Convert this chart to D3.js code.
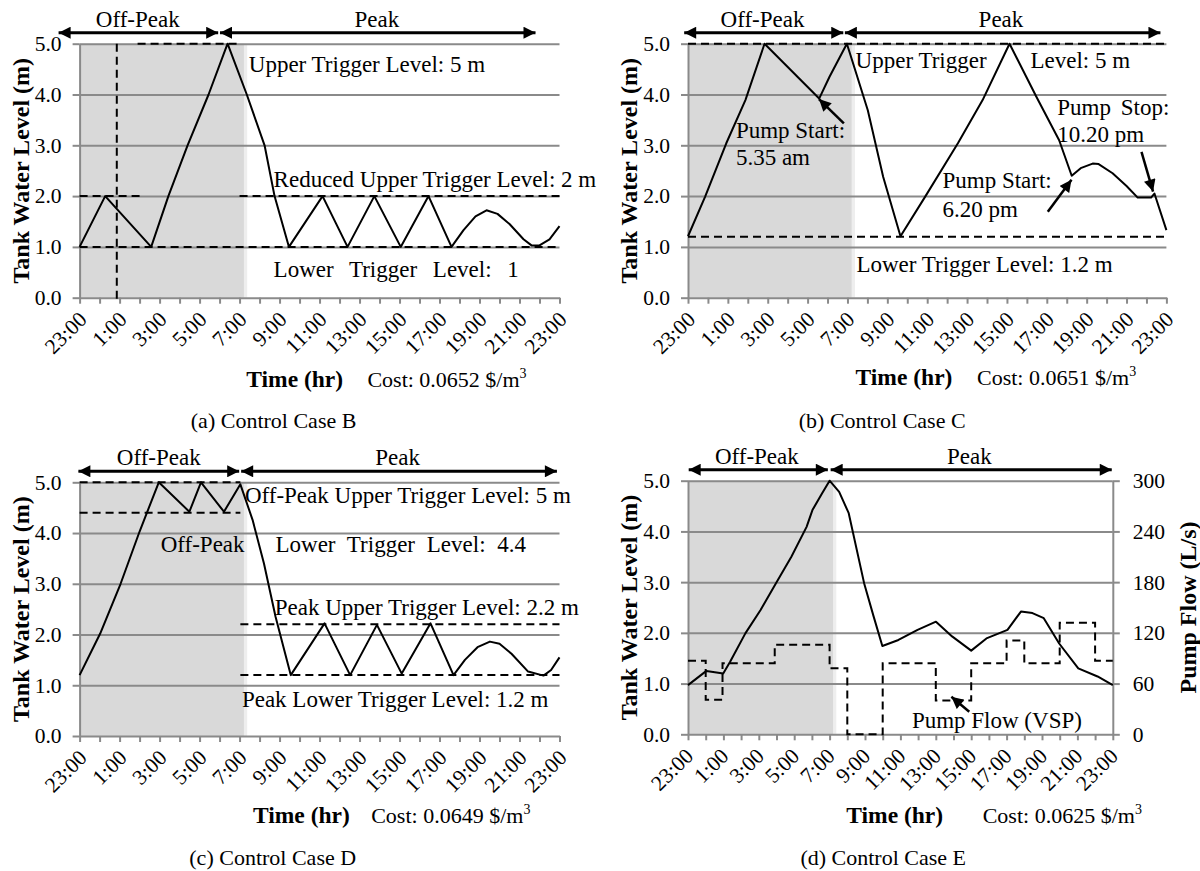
<!DOCTYPE html>
<html>
<head>
<meta charset="utf-8">
<script src="https://cdn.jsdelivr.net/npm/d3@7"></script>
<style>
  body { margin: 0; background: #fff; }
  svg, svg text { font-family: "Liberation Serif", "Times New Roman", serif; }
</style>
</head>
<body>
<svg id="chart" width="1200" height="871"></svg>
<script>
// x ticks: hours from 23:00 (0) to 23:00 next day (24)
const tickLabels = ["23:00","1:00","3:00","5:00","7:00","9:00","11:00","13:00","15:00","17:00","19:00","21:00","23:00"];
const levelTicks = [0, 1, 2, 3, 4, 5];
const flowTicks = [0, 60, 120, 180, 240, 300];
const offPeakEnd = 8.22;

// (a) Control Case B
const timeB  = [0, 1.28, 3.58, 4.44, 5.4, 6.45, 7.4, 8.36, 9.25, 9.75, 10.47, 12.15, 13.4, 14.74, 16.06, 17.45, 18.6, 19.2, 19.8, 20.35, 20.9, 21.5, 22.2, 22.6, 23.0, 23.5, 24];
const levelB = [1.0, 2.0, 1.0, 2.0, 3.0, 4.0, 5.0, 4.0, 3.0, 2.0, 1.0, 2.0, 1.0, 2.0, 1.0, 2.0, 1.0, 1.33, 1.6, 1.72, 1.65, 1.45, 1.15, 1.03, 1.03, 1.15, 1.41];
const trigLevelB = [5, 2, 2, 1];
const trigFromB  = [2.9, 0, 8.0, 0];
const trigToB    = [8.0, 3.0, 24, 24];
const markTimeB  = 1.86;

// (b) Control Case C
const timeC  = [0, 0.86, 1.92, 2.88, 3.84, 6.58, 7.1, 7.97, 8.26, 9.02, 9.79, 10.66, 11.9, 13.54, 14.78, 16.13, 17.47, 18.62, 19.25, 19.7, 20.3, 20.6, 21.3, 22.0, 22.56, 23.23, 23.4, 24];
const levelC = [1.21, 1.99, 3.04, 3.89, 5.0, 3.92, 4.35, 5.0, 4.64, 3.69, 2.38, 1.21, 1.99, 3.04, 3.89, 5.0, 3.96, 3.1, 2.4, 2.55, 2.64, 2.63, 2.45, 2.2, 1.97, 1.97, 2.05, 1.33];
const trigLevelC = [5, 1.2];
const trigFromC  = [0, 0];
const trigToC    = [24, 24];

// (c) Control Case D
const timeD  = [0, 1.03, 2.05, 3.0, 3.96, 5.49, 6.07, 7.22, 8.04, 8.65, 9.22, 9.8, 10.56, 12.25, 13.53, 14.87, 16.11, 17.55, 18.7, 19.27, 19.9, 20.52, 21.0, 21.6, 22.43, 23.2, 23.58, 24];
const levelD = [1.2, 2.02, 3.0, 4.03, 5.0, 4.42, 5.0, 4.42, 4.96, 4.26, 3.4, 2.35, 1.2, 2.22, 1.2, 2.19, 1.23, 2.22, 1.2, 1.5, 1.75, 1.86, 1.82, 1.62, 1.27, 1.19, 1.3, 1.55];
const trigLevelD = [5, 4.4, 2.2, 1.2];
const trigFromD  = [0, 0, 8.04, 8.04];
const trigToD    = [8.04, 8.04, 24, 24];

// (d) Control Case E
const timeE  = [0, 1.04, 1.99, 2.38, 3.24, 4.1, 4.97, 5.84, 6.7, 7.03, 7.57, 8.0, 8.54, 9.08, 9.95, 10.49, 10.98, 11.89, 12.97, 14.01, 14.92, 16.0, 16.86, 18.05, 18.81, 19.46, 20.1, 20.97, 22.05, 23.14, 24];
const levelE = [0.97, 1.25, 1.2, 1.43, 1.99, 2.45, 2.98, 3.5, 4.09, 4.42, 4.75, 5.0, 4.78, 4.36, 2.98, 2.32, 1.74, 1.86, 2.06, 2.22, 1.93, 1.65, 1.89, 2.06, 2.42, 2.39, 2.29, 1.79, 1.3, 1.14, 0.97];
const flowTimeE = [0, 1.0, 1.95, 4.9, 8.0, 9.0, 11.0, 14.0, 16.0, 18.0, 19.0, 21.0, 23.0, 24];
const flowE     = [87, 41, 84, 106, 78, 0, 84, 40, 84, 111, 84, 132, 87, 87];

const svg = d3.select("#chart");
const gridColor = "#8a8a8a";
const defs = svg.append("defs");
defs.append("marker")
  .attr("id", "head")
  .attr("viewBox", "0 0 10 10")
  .attr("refX", 10).attr("refY", 5)
  .attr("markerWidth", 13).attr("markerHeight", 12)
  .attr("markerUnits", "userSpaceOnUse")
  .attr("orient", "auto-start-reverse")
  .append("path").attr("d", "M0,0 L10,5 L0,10 z").attr("fill", "#000");

function addText(g, x, y, str, size, opts) {
  opts = opts || {};
  const t = g.append("text")
    .attr("x", x).attr("y", y)
    .attr("font-size", size)
    .attr("fill", "#000")
    .attr("text-anchor", opts.anchor || "start")
    .attr("font-weight", opts.bold ? "bold" : "normal")
    .text(str);
  if (opts.ws) t.attr("word-spacing", opts.ws);
  return t;
}

// d3 axes put sans-serif on the group, drop it and restyle
function styleAxis(a) {
  a.attr("font-family", null).attr("font-size", null);
  a.select(".domain").attr("stroke", gridColor).attr("stroke-width", 2);
  a.selectAll("line").attr("stroke", gridColor).attr("stroke-width", 2);
  a.selectAll("text").attr("font-size", 21.5).attr("fill", "#000");
}

function panel(p) {
  const x = d3.scaleLinear().domain([0, 24]).range([p.left, p.right]);
  const y = d3.scaleLinear().domain([0, 5]).range([p.bottom, p.top]);
  const g = svg.append("g");

  // off-peak shading
  g.append("rect")
    .attr("x", x(0)).attr("y", y(5))
    .attr("width", x(offPeakEnd) - x(0)).attr("height", y(0) - y(5))
    .attr("fill", "#d9d9d9");
  g.append("rect")
    .attr("x", x(offPeakEnd)).attr("y", y(5))
    .attr("width", x(offPeakEnd + 0.16) - x(offPeakEnd)).attr("height", y(0) - y(5))
    .attr("fill", "#eeeeee");

  // gridlines
  g.append("g")
    .attr("transform", `translate(${p.left},0)`)
    .call(d3.axisLeft(y).tickValues([1, 2, 3, 4, 5]).tickSize(-(p.right - p.left)).tickFormat(""))
    .call(s => s.select(".domain").remove())
    .selectAll("line").attr("stroke", gridColor).attr("stroke-width", 2);

  // left axis
  const ya = g.append("g")
    .attr("transform", `translate(${p.left},0)`)
    .call(d3.axisLeft(y).tickValues(levelTicks).tickFormat(d3.format(".1f")).tickSize(7).tickPadding(11).tickSizeOuter(0));
  styleAxis(ya);

  // bottom axis
  const xa = g.append("g")
    .attr("transform", `translate(0,${p.bottom})`)
    .call(d3.axisBottom(x).tickValues(d3.range(0, 25)).tickSize(6).tickSizeOuter(0)
      .tickFormat(d => d % 2 === 0 ? tickLabels[d / 2] : ""));
  styleAxis(xa);
  xa.selectAll("text")
    .attr("y", 0).attr("dy", null)
    .attr("text-anchor", "end")
    .attr("transform", `translate(${p.lblDx},23) rotate(-45)`);

  // right axis (flow)
  if (p.flow) {
    const yf = d3.scaleLinear().domain([0, 300]).range([p.bottom, p.top]);
    const ra = g.append("g")
      .attr("transform", `translate(${p.right},0)`)
      .call(d3.axisRight(yf).tickValues(flowTicks).tickSize(7).tickPadding(13).tickSizeOuter(0));
    styleAxis(ra);
    g.append("text")
      .attr("transform", `translate(${p.flowTitleX},${(p.top + p.bottom) / 2}) rotate(-90)`)
      .attr("dy", "0.35em").attr("text-anchor", "middle")
      .attr("font-size", 24).attr("font-weight", "bold")
      .text("Pump Flow (L/s)");
    g.append("path")
      .datum(d3.zip(p.flow.t, p.flow.v))
      .attr("fill", "none").attr("stroke", "#000").attr("stroke-width", 2)
      .attr("stroke-dasharray", "8,5")
      .attr("d", d3.line().curve(d3.curveStepAfter).x(d => x(d[0])).y(d => yf(d[1])));
  }

  // trigger levels
  if (p.trig) {
    p.trig.lvl.forEach((lv, i) => {
      g.append("line")
        .attr("x1", x(p.trig.from[i])).attr("x2", x(p.trig.to[i]))
        .attr("y1", y(lv)).attr("y2", y(lv))
        .attr("stroke", "#000").attr("stroke-width", 2).attr("stroke-dasharray", "8,5");
    });
  }
  if (p.mark != null) {
    g.append("line")
      .attr("x1", x(p.mark)).attr("x2", x(p.mark))
      .attr("y1", y(5)).attr("y2", y(0) + 4)
      .attr("stroke", "#000").attr("stroke-width", 2).attr("stroke-dasharray", "8,5");
  }

  // tank level
  g.append("path")
    .datum(d3.zip(p.t, p.v))
    .attr("fill", "none").attr("stroke", "#000").attr("stroke-width", 2)
    .attr("stroke-linejoin", "round")
    .attr("d", d3.line().x(d => x(d[0])).y(d => y(d[1])));

  // period arrows
  const ay = y(5) - 11;
  [[p.off, "Off-Peak", p.offLbl], [p.peak, "Peak", p.peakLbl]].forEach(([r, name, c]) => {
    g.append("line")
      .attr("x1", x(r[0])).attr("x2", x(r[1]))
      .attr("y1", ay).attr("y2", ay)
      .attr("stroke", "#000").attr("stroke-width", 3)
      .attr("marker-start", "url(#head)").attr("marker-end", "url(#head)");
    addText(g, x(c), ay - 6, name, 23, { anchor: "middle" });
  });

  // pointer arrows
  (p.pointers || []).forEach(a => {
    g.append("line")
      .attr("x1", x(a[0])).attr("y1", y(a[1]))
      .attr("x2", x(a[2])).attr("y2", y(a[3]))
      .attr("stroke", "#000").attr("stroke-width", 2.5)
      .attr("marker-end", "url(#head)");
  });

  // titles
  g.append("text")
    .attr("transform", `translate(${p.titleX},${(p.top + p.bottom) / 2}) rotate(-90)`)
    .attr("dy", "0.35em").attr("text-anchor", "middle")
    .attr("font-size", 24).attr("font-weight", "bold")
    .text("Tank Water Level (m)");
  addText(g, p.timeX, p.timeY, "Time (hr)", 23.5, { anchor: "middle", bold: true });
  const cost = addText(g, p.costX, p.timeY, "Cost: " + p.cost + " $/m", 22);
  cost.append("tspan").attr("dy", -9).attr("font-size", 14).text("3");
  addText(g, p.capX, p.capY, p.caption, 22, { anchor: "middle" });

  (p.notes || []).forEach(n => addText(g, n[0], n[1], n[2], 23, { ws: n[3] }));
}

panel({
  left: 79.6, right: 559.5, top: 43.7, bottom: 297.7, lblDx: 8,
  t: timeB, v: levelB,
  trig: { lvl: trigLevelB, from: trigFromB, to: trigToB }, mark: markTimeB,
  off: [-1.05, 6.93], peak: [7.02, 22.8], offLbl: 2.91, peakLbl: 14.87,
  titleX: 21, timeX: 294.7, timeY: 386.7, costX: 367.4, cost: "0.0652",
  capX: 273.6, capY: 428, caption: "(a) Control Case B",
  notes: [
    [248.8, 71.7, "Upper Trigger Level: 5 m"],
    [273.6, 186.7, "Reduced Upper Trigger Level: 2 m"],
    [273.6, 276.7, "Lower Trigger Level: 1", 10]
  ]
});

panel({
  left: 688, right: 1166.4, top: 43.7, bottom: 297.7, lblDx: 8,
  t: timeC, v: levelC,
  trig: { lvl: trigLevelC, from: trigFromC, to: trigToC },
  off: [-0.19, 7.79], peak: [7.87, 23.7], offLbl: 3.74, peakLbl: 15.7,
  pointers: [[7.82, 3.43, 6.57, 3.91], [22.75, 2.87, 23.33, 2.09], [18.05, 1.69, 19.24, 2.32]],
  titleX: 628.7, timeX: 904, timeY: 385, costX: 977, cost: "0.0651",
  capX: 882.2, capY: 428, caption: "(b) Control Case C",
  notes: [
    [855.6, 68.3, "Upper Trigger"],
    [1030.5, 68.3, "Level: 5 m"],
    [735.9, 138.3, "Pump Start:"],
    [735.9, 165, "5.35 am"],
    [1057.3, 115, "Pump Stop:", 4],
    [1057.3, 141.7, "10.20 pm"],
    [942.5, 188.3, "Pump Start:"],
    [942.5, 216.7, "6.20 pm"],
    [856.4, 271.7, "Lower Trigger Level: 1.2 m"]
  ]
});

panel({
  left: 79.6, right: 559.5, top: 482.3, bottom: 736, lblDx: 8,
  t: timeD, v: levelD,
  trig: { lvl: trigLevelD, from: trigFromD, to: trigToD },
  off: [-0.06, 7.98], peak: [8.08, 23.87], offLbl: 3.96, peakLbl: 15.9,
  titleX: 21, timeX: 301.4, timeY: 823.3, costX: 371.2, cost: "0.0649",
  capX: 272.7, capY: 865, caption: "(c) Control Case D",
  notes: [
    [244.9, 502.7, "Off-Peak Upper Trigger Level: 5 m"],
    [160.7, 551.7, "Off-Peak"],
    [275.5, 551.7, "Lower Trigger Level: 4.4", 6],
    [274.8, 615, "Peak Upper Trigger Level: 2.2 m"],
    [241.9, 706.7, "Peak Lower Trigger Level: 1.2 m"]
  ]
});

panel({
  left: 688, right: 1112.8, top: 480.7, bottom: 734.3, lblDx: 6,
  t: timeE, v: levelE,
  flow: { t: flowTimeE, v: flowE }, flowTitleX: 1187.4,
  off: [0.04, 7.9], peak: [8.06, 23.94], offLbl: 3.89, peakLbl: 15.9,
  pointers: [[15.89, 0.446, 14.88, 0.74]],
  titleX: 628.7, timeX: 894.7, timeY: 823.3, costX: 982.7, cost: "0.0625",
  capX: 883.2, capY: 865, caption: "(d) Control Case E",
  notes: [
    [911.9, 728.3, "Pump Flow (VSP)"]
  ]
});
</script>
</body>
</html>
